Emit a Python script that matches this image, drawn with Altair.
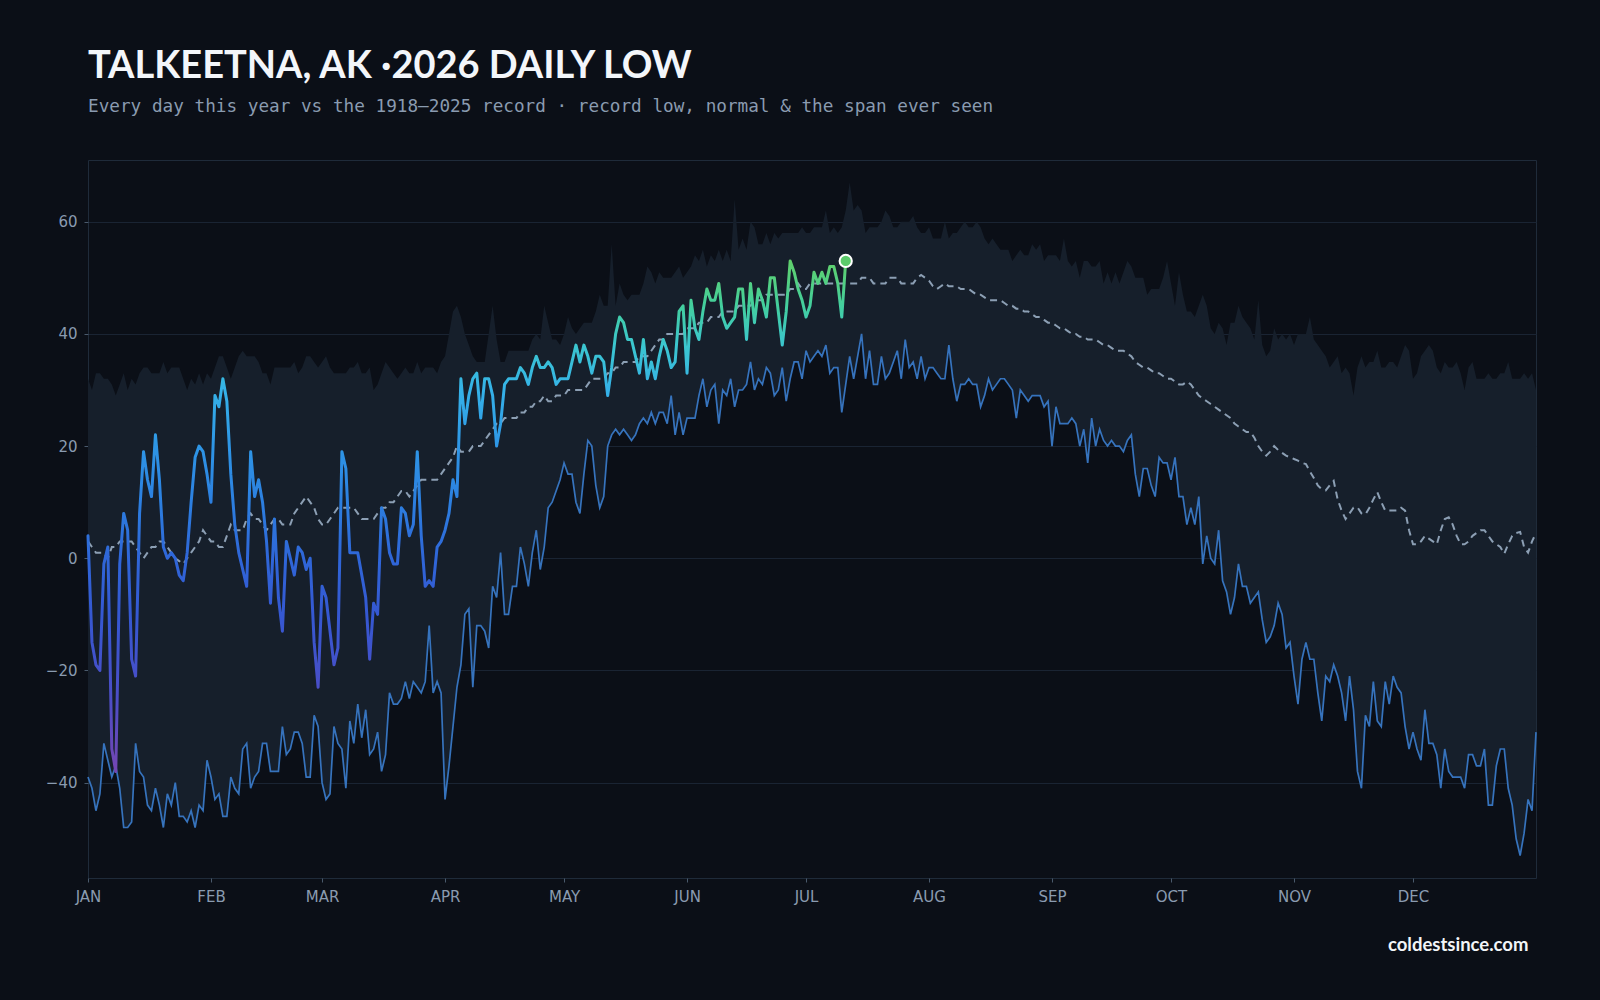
import altair as alt
import pandas as pd

# ---- Climatology, one value per day of year (Jan 1 = day 0) ----
record_low = [
    -39, -41, -45, -42, -33, -36, -39, -37, -41, -48,
    -48, -47, -33, -38, -39, -44, -45, -41, -44, -48,
    -42, -44, -40, -46, -46, -47, -45, -48, -44, -45,
    -36, -39, -43, -42, -46, -46, -39, -41, -42, -34,
    -33, -41, -39, -38, -33, -33, -38, -38, -38, -30,
    -35, -34, -31, -31, -33, -39, -39, -28, -30, -40,
    -43, -42, -30, -33, -34, -41, -29, -33, -26, -32,
    -27, -35, -34, -31, -38, -35, -24, -26, -26, -25,
    -22, -25, -22, -23, -24, -22, -12, -24, -22, -24,
    -43, -37, -30, -23, -19, -10, -9, -23, -12, -12,
    -13, -16, -5, -7, 1, -10, -10, -5, -5, 2,
    -1, -5, 1, 5, -2, 2, 9, 10, 12, 14,
    17, 15, 15, 10, 8, 15, 21, 20, 13, 9,
    11, 20, 22, 23, 22, 23, 22, 21, 22, 24,
    25, 24, 26, 24, 26, 26, 24, 29, 22, 26,
    22, 25, 25, 25, 29, 32, 27, 30, 31, 24,
    30, 29, 32, 27, 30, 30, 31, 35, 30, 32,
    31, 34, 33, 29, 30, 34, 28, 32, 35, 35,
    32, 37, 35, 36, 37, 36, 38, 33, 34, 34,
    26, 31, 36, 32, 36, 40, 32, 37, 31, 31,
    36, 32, 33, 35, 37, 32, 39, 34, 35, 32,
    36, 32, 34, 34, 33, 32, 32, 38, 32, 28,
    31, 31, 32, 31, 31, 27, 29, 32, 30, 31,
    32, 32, 31, 30, 25, 30, 29, 28, 29, 29,
    29, 27, 28, 20, 27, 24, 24, 24, 25, 24,
    20, 23, 17, 25, 20, 23, 21, 20, 21, 20,
    20, 19, 21, 22, 15, 11, 16, 16, 13, 11,
    18, 17, 17, 14, 18, 11, 11, 6, 9, 6,
    11, -1, 4, 0, -1, 5, -4, -6, -10, -7,
    -1, -5, -5, -8, -7, -6, -11, -15, -14, -12,
    -8, -10, -16, -15, -21, -26, -18, -15, -18, -18,
    -24, -29, -21, -22, -19, -21, -24, -29, -21, -27,
    -38, -41, -28, -30, -22, -29, -30, -22, -26, -21,
    -23, -24, -30, -34, -31, -34, -36, -27, -33, -33,
    -35, -41, -34, -38, -39, -39, -39, -41, -35, -35,
    -37, -37, -34, -44, -44, -37, -34, -34, -41, -44,
    -50, -53, -49, -43, -45, -31,
]

warmest_low = [
    32, 30, 33, 33, 32, 32, 31, 29, 31, 33,
    30, 32, 31, 33, 34, 34, 33, 33, 33, 35,
    33, 34, 34, 34, 32, 30, 32, 31, 33, 31,
    33, 32, 34, 36, 36, 34, 32, 34, 36, 37,
    36, 36, 36, 35, 33, 33, 31, 34, 34, 34,
    34, 34, 35, 33, 34, 36, 36, 35, 34, 35,
    36, 34, 33, 33, 33, 33, 34, 34, 35, 33,
    33, 34, 30, 31, 33, 35, 34, 33, 32, 33,
    34, 33, 33, 35, 33, 34, 34, 34, 33, 35,
    36, 40, 44, 45, 43, 40, 38, 36, 35, 35,
    35, 40, 45, 39, 35, 35, 37, 37, 37, 37,
    37, 37, 39, 40, 39, 45, 42, 39, 39, 38,
    40, 43, 41, 40, 41, 42, 42, 42, 44, 47,
    45, 45, 56, 45, 49, 47, 46, 47, 47, 47,
    49, 52, 51, 49, 51, 50, 50, 50, 51, 52,
    50, 51, 52, 54, 53, 55, 52, 54, 53, 55,
    53, 55, 53, 64, 55, 57, 55, 60, 59, 56,
    56, 58, 56, 58, 57, 58, 58, 58, 58, 58,
    59, 58, 58, 59, 59, 59, 62, 58, 59, 58,
    59, 62, 67, 62, 63, 62, 58, 59, 59, 59,
    60, 62, 61, 59, 59, 60, 60, 60, 61, 59,
    58, 58, 59, 57, 57, 57, 60, 57, 58, 58,
    59, 60, 59, 59, 60, 59, 57, 56, 57, 56,
    55, 55, 55, 53, 54, 55, 54, 54, 56, 55,
    56, 53, 54, 54, 54, 53, 57, 53, 52, 53,
    50, 53, 53, 52, 52, 53, 49, 51, 49, 51,
    49, 51, 53, 52, 50, 50, 50, 47, 48, 48,
    48, 50, 53, 49, 45, 51, 47, 44, 44, 43,
    45, 47, 45, 41, 40, 42, 41, 38, 42, 42,
    45, 43, 42, 41, 39, 46, 38, 36, 37, 41,
    39, 40, 39, 40, 38, 40, 40, 40, 43, 39,
    38, 37, 36, 34, 35, 36, 33, 34, 33, 29,
    34, 36, 34, 35, 35, 37, 34, 34, 35, 35,
    34, 36, 38, 37, 32, 33, 36, 37, 38, 37,
    34, 33, 35, 34, 34, 35, 33, 30, 34, 35,
    32, 32, 32, 33, 32, 32, 33, 33, 35, 32,
    32, 32, 33, 32, 33, 30,
]

normal_low = [
    3, 2, 1, 1, 1, 0, 2, 2, 3, 3,
    3, 3, 2, 1, 0, 1, 2, 2, 3, 3,
    2, 1, 0, -0.5, -1, 0, 1, 2, 3, 5,
    4, 3, 3, 2, 2, 4, 6, 5, 5, 5,
    7, 8, 7, 7, 6, 5, 6, 7, 7, 6,
    6, 6, 8, 9, 10, 11, 10, 9, 7, 6,
    6, 7, 8, 9, 9, 9, 9, 9, 8, 7,
    7, 7, 7, 8, 9, 9, 10, 10, 11, 12,
    12, 11, 12, 13, 14, 14, 14, 14, 14, 15,
    16, 17, 18, 20, 19, 19, 19, 20, 20, 20,
    21, 22, 23, 24, 24, 25, 25, 25, 25, 26,
    26, 27, 27, 28, 28, 29, 28, 28, 29, 29,
    29, 30, 30, 30, 30, 30, 31, 32, 32, 32,
    32, 33, 33, 34, 34, 35, 35, 35, 35, 36,
    36, 36, 37, 38, 39, 39, 40, 40, 40, 40,
    40, 41, 41, 41, 42, 42, 42, 43, 43, 43,
    44, 44, 44, 44, 45, 45, 45, 45, 46, 46,
    46, 47, 47, 47, 47, 47, 47, 48, 48, 49,
    48, 48, 49, 49, 49, 49, 49, 49, 49, 49,
    49, 49, 49, 49, 49, 50, 50, 50, 49, 49,
    49, 49, 50, 50, 50, 49, 49, 49, 49, 50,
    50.5, 50, 49.5, 48.5, 48, 48.5, 49, 48.5, 48.5, 48.5,
    48, 48, 48, 47.5, 47, 47, 46.5, 46, 46, 46,
    46, 45.5, 45, 45, 44.5, 44.5, 44, 44, 43.5, 43,
    43, 42.5, 42, 42, 41.5, 41, 41, 40.5, 40, 40,
    39.5, 39.5, 39, 39, 39, 38.5, 38, 38, 37.5, 37,
    37, 37, 36.5, 36, 35, 34.5, 34, 34, 33.5, 33,
    33, 32.5, 32, 32, 31.5, 31, 31, 31.5, 31, 30,
    29, 28.5, 28, 27.5, 27, 26.5, 26, 25.5, 25, 24,
    23.5, 23, 22.5, 22.5, 21.5, 20, 19, 18.3, 19, 20,
    19.3, 18.8, 18.3, 18, 17.7, 17.4, 17, 16.8, 15.5, 14.3,
    13, 12.3, 12.1, 13, 13.8, 10.5, 8.5, 7, 8, 9,
    9.1, 8, 7.8, 9, 10.5, 11.8, 10, 8.5, 8.5, 8.5,
    8.5, 9, 8.5, 5, 2.5, 2.5, 3, 4, 3.5, 3,
    2.5, 5, 7, 7.3, 6, 4, 2.5, 2.5, 3, 4,
    4.5, 5, 5, 4, 3, 2.5, 2, 0.8, 2.5, 4,
    4.5, 4.7, 2, 1, 3, 4.5,
]

# ---- 2026 daily lows so far ----
this_year = [
    4, -15, -19, -20, -1, 2, -34, -38, -1, 8,
    5, -18, -21, 8, 19, 14, 11, 22, 14, 2,
    0, 1, 0, -3, -4, 1, 10, 18, 20, 19,
    15, 10, 29, 27, 32, 28, 15, 6, 1, -2,
    -5, 19, 11, 14, 10, 3, -8, 7, -7, -13,
    3, 0, -3, 2, 1, -2, 0, -15, -23, -5,
    -7, -13, -19, -16, 19, 16, 1, 1, 1, -3,
    -7, -18, -8, -10, 9, 7, 1, -1, -1, 9,
    8, 4, 6, 19, 4, -5, -4, -5, 2, 3,
    5, 8, 14, 11, 32, 24, 29, 32, 33, 25,
    32, 32, 29, 20, 24, 31, 32, 32, 32, 34,
    33, 31, 34, 36, 34, 34, 35, 34, 31, 32,
    32, 32, 35, 38, 35, 38, 36, 33, 36, 36,
    35, 29, 34, 40, 43, 42, 39, 39, 36, 33,
    39, 32, 35, 32, 36, 39, 37, 34, 35, 44,
    45, 33, 46, 41, 39, 44, 48, 46, 46, 49,
    43, 41, 42, 43, 48, 48, 39, 49, 42, 48,
    46, 43, 50, 50, 44, 38, 44, 53, 51, 48,
    46, 43, 45, 51, 49, 51, 49, 52, 52, 49,
    43, 53,
]

month_starts = [0, 31, 59, 90, 120, 151, 181, 212, 243, 273, 304, 334]
month_labels = ["JAN", "FEB", "MAR", "APR", "MAY", "JUN",
                "JUL", "AUG", "SEP", "OCT", "NOV", "DEC"]
y_ticks = [-40, -20, 0, 20, 40, 60]

# colour ramp for this year's line, keyed by temperature (°F)
ramp = [
    (-38, "#7446b2"), (-25, "#4c4dc6"), (-10, "#3558d2"), (0, "#2f66d8"),
    (10, "#2c7fe0"), (20, "#2e96e6"), (30, "#35b2e8"), (38, "#3bc6cf"),
    (45, "#43cf9e"), (53, "#60d06b"),
]

clim = pd.DataFrame({
    "day": list(range(len(record_low))),
    "record_low": record_low,
    "warmest_low": warmest_low,
    "normal": normal_low,
})
year = pd.DataFrame({"day": list(range(len(this_year))), "low": this_year})
latest = year.tail(1)

W, H = 1448, 718
BG = "#0b0f17"
LABEL = "#8a9bb0"

x_enc = alt.X(
    "day:Q",
    scale=alt.Scale(domain=[0, 365], nice=False, zero=False),
    axis=alt.Axis(
        values=month_starts,
        labelExpr="[" + ",".join(f"'{m}'" for m in month_labels) + "][indexof(["
        + ",".join(str(d) for d in month_starts) + "], datum.value)]",
        labelFlush=False,
        grid=False,
        tickSize=4,
        labelPadding=7,
        title="coldestsince.com",
        titleFont="Lato",
        titleFontWeight="bold",
        titleFontSize=18.5,
        titleColor="#f2f5f8",
        titleAlign="right",
        titleAnchor="end",
        titleX=W - 8,
        titleY=66,
        titleBaseline="middle",
    ),
)
y_scale = alt.Scale(domain=[-57, 71], nice=False, zero=False)
y_axis = alt.Axis(values=y_ticks, grid=True, tickSize=4, labelPadding=7, title=None)

band = alt.Chart(clim).mark_area(color="#161f2b", opacity=1).encode(
    x=x_enc,
    y=alt.Y("record_low:Q", scale=y_scale, axis=y_axis),
    y2="warmest_low:Q",
)

low_line = alt.Chart(clim).mark_line(color="#3673bd", strokeWidth=1.7).encode(
    x=x_enc,
    y=alt.Y("record_low:Q", scale=y_scale, axis=y_axis),
)

normal_line = alt.Chart(clim).mark_line(
    color="#8c9fb4", strokeWidth=2, strokeDash=[7, 5]
).encode(
    x=x_enc,
    y=alt.Y("normal:Q", scale=y_scale, axis=y_axis),
)

vmin, vmax = min(this_year), max(this_year)
stops = [
    alt.GradientStop(offset=max(0.0, min(1.0, (t - vmin) / (vmax - vmin))), color=c)
    for t, c in ramp
]
year_line = alt.Chart(year).mark_line(
    stroke=alt.Gradient(gradient="linear", stops=stops, x1=0, x2=0, y1=1, y2=0),
    strokeWidth=3,
    strokeJoin="round",
    strokeCap="round",
).encode(
    x=x_enc,
    y=alt.Y("low:Q", scale=y_scale, axis=y_axis),
)

latest_dot = alt.Chart(latest).mark_circle(
    size=150, color="#5ccb6b", opacity=1, stroke="#ffffff", strokeWidth=2
).encode(
    x=x_enc,
    y=alt.Y("low:Q", scale=y_scale, axis=y_axis),
)

chart = alt.layer(band, low_line, normal_line, year_line, latest_dot).properties(
    width=W,
    height=H,
    autosize=alt.AutoSizeParams(type="none"),
    padding={"left": 88, "top": 160, "right": 64, "bottom": 122},
    background=BG,
    title=alt.TitleParams(
        text="TALKEETNA, AK ·2026 DAILY LOW",
        subtitle="Every day this year vs the 1918–2025 record · record low, normal & the span ever seen",
        anchor="start",
        frame="group",
        font="Lato",
        fontSize=38,
        fontWeight="bold",
        color="#f3f6fa",
        subtitleFont="DejaVu Sans Mono",
        subtitleFontSize=17.7,
        subtitleColor=LABEL,
        subtitlePadding=12,
        offset=44,
    ),
).configure_view(
    stroke="#1f2b3a", strokeWidth=1, fill=BG
).configure_axis(
    labelColor=LABEL,
    labelFont="DejaVu Sans",
    labelFontSize=15,
    tickColor="#4a5a6c",
    gridColor="#1a2433",
    gridWidth=1,
    domain=False,
)

chart.save("out.html", embed_options={"renderer": "svg", "actions": False})
